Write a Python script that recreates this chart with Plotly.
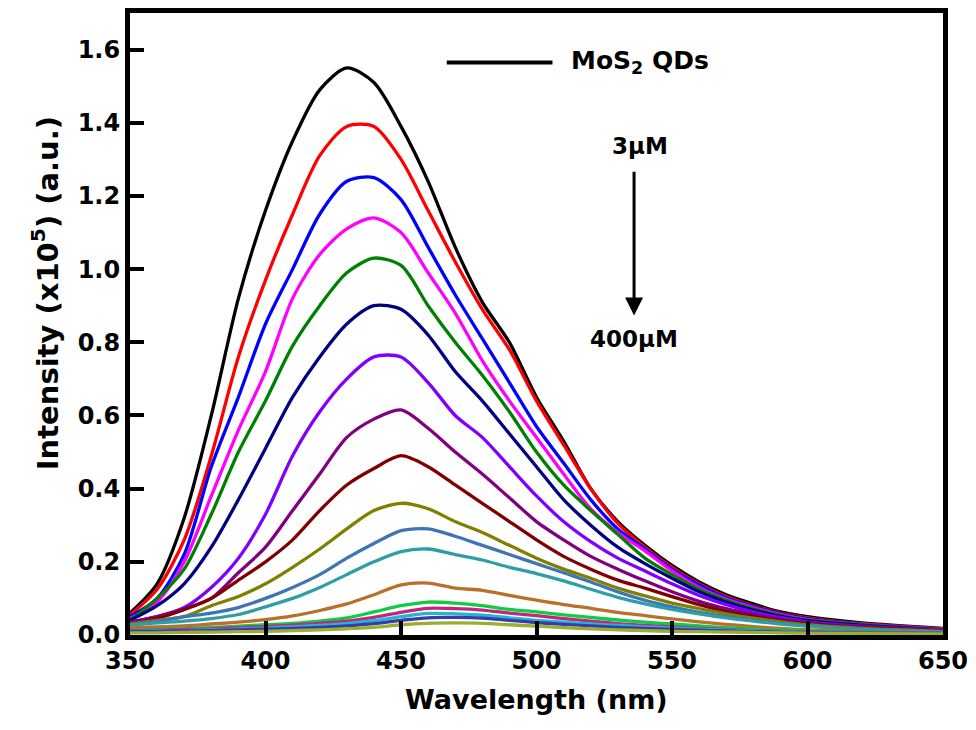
import plotly.graph_objects as go

wavelength = [350, 360, 370, 380, 390, 400, 410, 420, 430, 440, 450, 460, 470, 480,
              490, 500, 510, 520, 530, 540, 550, 560, 570, 580, 590, 600, 620, 650]

black = [0.06, 0.14, 0.32, 0.60, 0.92, 1.16, 1.35, 1.49, 1.55, 1.51, 1.39, 1.24, 1.06, 0.91,
         0.80, 0.65, 0.53, 0.40, 0.31, 0.245, 0.19, 0.145, 0.11, 0.085, 0.063, 0.05, 0.033, 0.018]
red = [0.055, 0.125, 0.26, 0.49, 0.76, 0.97, 1.15, 1.31, 1.39, 1.39, 1.30, 1.16, 1.02, 0.89,
       0.78, 0.64, 0.52, 0.40, 0.305, 0.24, 0.185, 0.14, 0.105, 0.08, 0.06, 0.047, 0.031, 0.017]
blue = [0.05, 0.10, 0.22, 0.46, 0.65, 0.85, 1.00, 1.15, 1.24, 1.25, 1.19, 1.06, 0.93, 0.81,
        0.69, 0.57, 0.47, 0.37, 0.29, 0.235, 0.18, 0.137, 0.102, 0.078, 0.058, 0.045, 0.030, 0.016]
magenta = [0.045, 0.09, 0.20, 0.38, 0.56, 0.72, 0.92, 1.04, 1.11, 1.14, 1.10, 0.99, 0.88, 0.75,
           0.64, 0.54, 0.44, 0.345, 0.28, 0.23, 0.175, 0.13, 0.098, 0.075, 0.056, 0.043, 0.029, 0.016]
green = [0.04, 0.10, 0.18, 0.33, 0.50, 0.64, 0.79, 0.90, 0.99, 1.03, 1.01, 0.90, 0.80, 0.71,
         0.61, 0.50, 0.41, 0.34, 0.275, 0.21, 0.165, 0.125, 0.095, 0.072, 0.054, 0.041, 0.028, 0.015]
navy = [0.04, 0.08, 0.14, 0.24, 0.37, 0.51, 0.65, 0.76, 0.85, 0.90, 0.89, 0.82, 0.72, 0.64,
        0.55, 0.46, 0.37, 0.30, 0.24, 0.195, 0.155, 0.118, 0.09, 0.068, 0.051, 0.039, 0.026, 0.014]
violet = [0.035, 0.05, 0.075, 0.13, 0.21, 0.33, 0.49, 0.61, 0.70, 0.76, 0.76, 0.69, 0.60, 0.54,
          0.46, 0.38, 0.31, 0.255, 0.21, 0.175, 0.14, 0.108, 0.083, 0.063, 0.048, 0.036, 0.024, 0.013]
purple = [0.035, 0.05, 0.07, 0.10, 0.17, 0.24, 0.34, 0.44, 0.54, 0.59, 0.615, 0.565, 0.50, 0.44,
          0.375, 0.31, 0.26, 0.215, 0.18, 0.148, 0.118, 0.092, 0.072, 0.056, 0.043, 0.033, 0.022, 0.012]
wine = [0.03, 0.045, 0.07, 0.10, 0.15, 0.20, 0.26, 0.34, 0.41, 0.455, 0.49, 0.46, 0.41, 0.36,
        0.31, 0.26, 0.215, 0.18, 0.15, 0.128, 0.105, 0.083, 0.064, 0.05, 0.039, 0.03, 0.02, 0.011]
olive = [0.03, 0.04, 0.05, 0.08, 0.105, 0.14, 0.185, 0.235, 0.29, 0.34, 0.36, 0.345, 0.31, 0.28,
         0.245, 0.21, 0.18, 0.155, 0.128, 0.107, 0.087, 0.072, 0.058, 0.046, 0.036, 0.028, 0.018, 0.01]
royal = [0.027, 0.037, 0.05, 0.06, 0.075, 0.10, 0.13, 0.165, 0.21, 0.25, 0.285, 0.29, 0.27, 0.245,
         0.22, 0.195, 0.17, 0.145, 0.118, 0.095, 0.077, 0.062, 0.05, 0.04, 0.032, 0.025, 0.016, 0.009]
teal = [0.027, 0.033, 0.038, 0.045, 0.056, 0.077, 0.10, 0.13, 0.165, 0.20, 0.228, 0.235, 0.22, 0.205,
        0.185, 0.168, 0.148, 0.125, 0.103, 0.085, 0.07, 0.058, 0.047, 0.038, 0.03, 0.024, 0.015, 0.008]
orange = [0.02, 0.022, 0.025, 0.03, 0.035, 0.042, 0.052, 0.067, 0.085, 0.11, 0.137, 0.142, 0.128, 0.122,
          0.108, 0.095, 0.083, 0.073, 0.062, 0.053, 0.044, 0.036, 0.029, 0.023, 0.018, 0.014, 0.01, 0.006]
lime = [0.013, 0.015, 0.017, 0.02, 0.024, 0.028, 0.032, 0.038, 0.047, 0.063, 0.08, 0.09, 0.087, 0.08,
        0.07, 0.063, 0.055, 0.048, 0.041, 0.035, 0.03, 0.025, 0.02, 0.016, 0.013, 0.011, 0.008, 0.005]
pink = [0.012, 0.013, 0.015, 0.017, 0.02, 0.023, 0.027, 0.032, 0.038, 0.048, 0.062, 0.073, 0.072, 0.068,
        0.06, 0.053, 0.045, 0.038, 0.031, 0.026, 0.022, 0.018, 0.015, 0.012, 0.01, 0.009, 0.007, 0.005]
cyan = [0.01, 0.011, 0.012, 0.014, 0.016, 0.019, 0.022, 0.026, 0.031, 0.039, 0.05, 0.059, 0.058, 0.054,
        0.047, 0.04, 0.035, 0.03, 0.026, 0.022, 0.019, 0.016, 0.013, 0.011, 0.009, 0.008, 0.006, 0.004]
slate = [0.009, 0.01, 0.011, 0.012, 0.014, 0.016, 0.018, 0.021, 0.025, 0.031, 0.04, 0.047, 0.048, 0.046,
         0.04, 0.034, 0.029, 0.025, 0.021, 0.018, 0.015, 0.013, 0.011, 0.009, 0.008, 0.007, 0.005, 0.004]
yellowgreen = [0.006, 0.006, 0.007, 0.008, 0.009, 0.01, 0.012, 0.014, 0.017, 0.021, 0.028, 0.032, 0.033, 0.032,
               0.028, 0.024, 0.02, 0.017, 0.014, 0.012, 0.01, 0.009, 0.008, 0.007, 0.006, 0.005, 0.004, 0.003]

series = [black, red, blue, magenta, green, navy, violet, purple, wine, olive,
          royal, teal, orange, lime, pink, cyan, slate, yellowgreen]
colors = ["#000000", "#FF0000", "#0000FF", "#FF00FF", "#008000", "#000080", "#8000FF",
          "#800080", "#800000", "#808000", "#3F74B5", "#2E9EA6", "#B8702A", "#10CC40",
          "#C02880", "#20B8D0", "#3A3AA8", "#9AAF30"]

x_ticks = [350, 400, 450, 500, 550, 600, 650]
y_ticks = [0.0, 0.2, 0.4, 0.6, 0.8, 1.0, 1.2, 1.4, 1.6]

FONT = "DejaVu Sans"

fig = go.Figure()
for vals, col in zip(series, colors):
    fig.add_trace(go.Scatter(x=wavelength, y=vals, mode="lines",
                             line=dict(color=col, width=3.3, shape="spline", smoothing=0.8),
                             showlegend=False, hoverinfo="skip"))

fig.update_layout(
    width=976, height=730, autosize=False,
    margin=dict(l=130, r=30, t=8, b=95),
    paper_bgcolor="white", plot_bgcolor="white",
    font=dict(family=FONT, color="black"),
)
axis_common = dict(showgrid=False, zeroline=False, showline=True, linecolor="black",
                   linewidth=5, mirror=True, ticks="inside", ticklen=14, tickwidth=4,
                   tickcolor="black", tickfont=dict(family=FONT, size=24, color="black",
                                                    weight="bold"))
fig.update_xaxes(range=[350, 650], tickvals=x_ticks, ticktext=[str(v) for v in x_ticks],
                 **axis_common)
fig.update_yaxes(range=[0, 1.70], tickvals=y_ticks, ticktext=[f"{v:.1f}" for v in y_ticks],
                 **axis_common)

# axis titles
fig.add_annotation(text="<b>Wavelength (nm)</b>", xref="paper", yref="paper",
                   x=0.5, y=-0.104, xanchor="center", yanchor="middle", showarrow=False,
                   font=dict(family=FONT, size=27, color="black"))
fig.add_annotation(text="<b>Intensity (x10<sup>5</sup>) (a.u.)</b>", xref="paper", yref="paper",
                   x=(45 - 130) / 816, y=0.55, xanchor="center", yanchor="middle",
                   textangle=-90, showarrow=False,
                   font=dict(family=FONT, size=29, color="black"))

# legend-like line and label
fig.add_shape(type="line", xref="x", yref="y", x0=466.9, x1=505.9, y0=1.565, y1=1.565,
              line=dict(color="black", width=4))
fig.add_annotation(text="<b>MoS<sub>2</sub> QDs</b>", xref="x", yref="y", x=512.1, y=1.565,
                   xanchor="left", yanchor="middle", showarrow=False,
                   font=dict(family=FONT, size=25, color="black"))

# concentration arrow
fig.add_annotation(text="<b>3μM</b>", xref="x", yref="y", x=538.2, y=1.337,
                   xanchor="center", yanchor="middle", showarrow=False,
                   font=dict(family=FONT, size=23, color="black"))
fig.add_annotation(text="", xref="x", yref="y", x=536, y=0.873, axref="x", ayref="y",
                   ax=536, ay=1.27, showarrow=True, arrowhead=2, arrowsize=1.2,
                   arrowwidth=3, arrowcolor="black")
fig.add_annotation(text="<b>400μM</b>", xref="x", yref="y", x=536, y=0.808,
                   xanchor="center", yanchor="middle", showarrow=False,
                   font=dict(family=FONT, size=23, color="black"))

fig.write_html("out.html")
